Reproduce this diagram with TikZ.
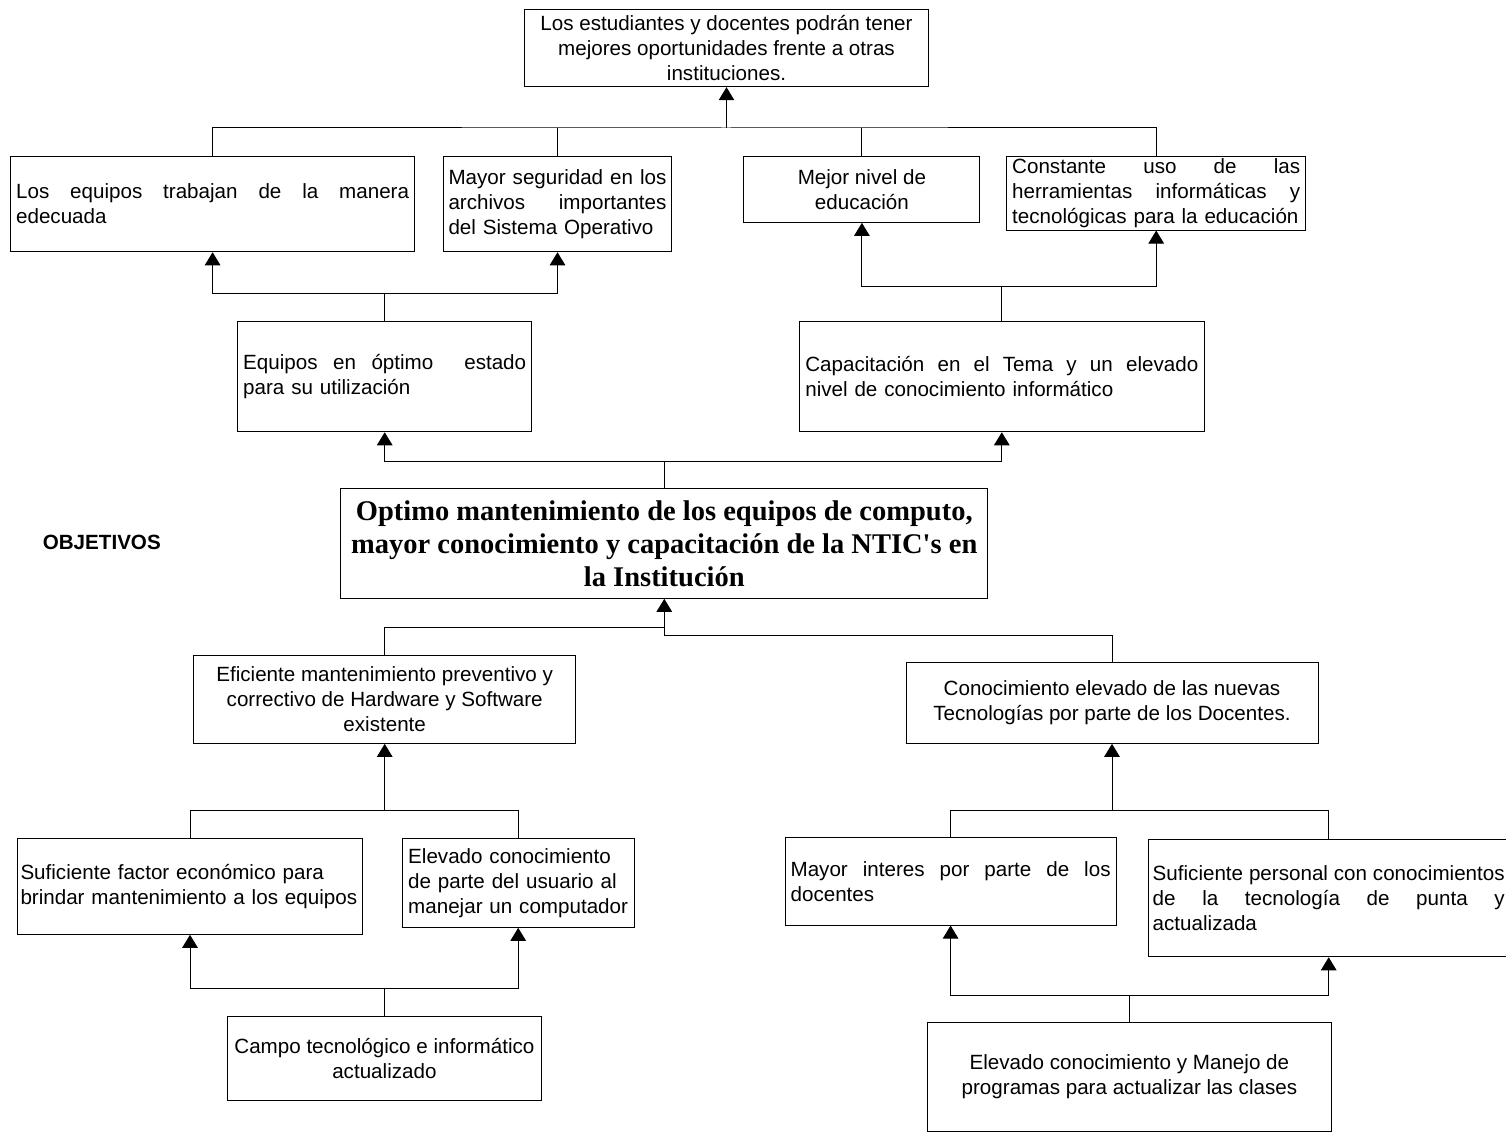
\documentclass[tikz,border=0pt]{standalone}
\usepackage{fontspec}
\setmainfont{Liberation Sans}
\newfontfamily\romanbold{Liberation Serif}
\usetikzlibrary{arrows.meta}

% renglon justificado a un ancho dado
\newcommand{\llena}[2]{\leavevmode\hbox to #1{\spaceskip=.278em plus 1fil\relax #2}}

\begin{document}
\begin{tikzpicture}[x=1pt,y=-1pt,>={Triangle[width=15.5pt,length=13pt]},line width=1pt,
    caja/.style={draw,rectangle,inner sep=0pt,font=\fontsize{20.6}{25}\selectfont}]
  \useasboundingbox (0,0) rectangle (1506,1137);
  \clip (0,0) rectangle (1506,1137);

  % fines
  \node[caja,minimum width=404pt,minimum height=77.4pt,align=center] (T) at (726.5,48)
      {Los estudiantes y docentes podrán tener\\ mejores oportunidades frente a otras\\ instituciones.};
  \node[caja,minimum width=403.8pt,minimum height=95.7pt,text width=393pt,align=left] (A) at (212.6,203.9)
      {\llena{393pt}{Los equipos trabajan de la manera}\\ edecuada};
  \node[caja,minimum width=228pt,minimum height=95.7pt,text width=218pt,align=left] (B) at (557.5,203.9)
      {\llena{218pt}{Mayor seguridad en los}\\ \llena{218pt}{archivos importantes}\\ del Sistema Operativo};
  \node[caja,minimum width=236pt,minimum height=66.3pt,align=center] (C) at (861.9,189.2)
      {Mejor nivel de\\ educación};
  \node[caja,minimum width=299pt,minimum height=74pt,text width=288pt,align=left] (D) at (1156.2,193)
      {\llena{288pt}{Constante uso de las}\\ \llena{288pt}{herramientas informáticas y}\\ tecnológicas para la educación};
  \node[caja,minimum width=294.3pt,minimum height=110.7pt,text width=283pt,align=left] (E) at (384.7,376.4)
      {\llena{283pt}{Equipos en óptimo\ \ estado}\\ para su utilización};
  \node[caja,minimum width=404.4pt,minimum height=110.7pt,text width=393pt,align=left] (F) at (1001.8,376.4)
      {\llena{393pt}{Capacitación en el Tema y un elevado}\\ nivel de conocimiento informático};

  % objetivo central
  \node[draw,rectangle,inner sep=0pt,minimum width=647pt,minimum height=110pt,align=center,
        font=\romanbold\bfseries\fontsize{28.5}{33}\selectfont] (M) at (664.3,543.3)
      {Optimo mantenimiento de los equipos de computo,\\ mayor conocimiento y capacitación de la NTIC\textquotesingle s en\\ la Institución};
  \node[font=\bfseries\fontsize{20.6}{25}\selectfont] (obj) at (101.8,542.7) {OBJETIVOS};

  % medios
  \node[caja,minimum width=381.5pt,minimum height=88.3pt,align=center] (G1) at (384.7,699.2)
      {Eficiente mantenimiento preventivo y\\ correctivo de Hardware y Software\\ existente};
  \node[caja,minimum width=412pt,minimum height=80.6pt,align=center] (G2) at (1112,703)
      {Conocimiento elevado de las nuevas\\ Tecnologías por parte de los Docentes.};
  \node[caja,minimum width=345pt,minimum height=96pt,text width=339pt,align=left] (H1) at (190,886.3)
      {Suficiente factor económico para\\ brindar mantenimiento a los equipos};
  \node[caja,minimum width=231.7pt,minimum height=89pt,text width=220pt,align=left] (H2) at (518.2,882.8)
      {Elevado conocimiento\\ de parte del usuario al\\ manejar un computador};
  \node[caja,minimum width=331pt,minimum height=87.7pt,text width=320pt,align=left] (H3) at (950.6,881.2)
      {\llena{320pt}{Mayor interes por parte de los}\\ docentes};
  \node[caja,minimum width=360.6pt,minimum height=117.7pt,text width=352pt,align=left] (H4) at (1328.7,897.9)
      {\llena{352pt}{Suficiente personal con conocimientos}\\ \llena{352pt}{de la tecnología de punta y}\\ actualizada};
  \node[caja,minimum width=313.2pt,minimum height=84.7pt,align=center] (I) at (384.4,1058.4)
      {Campo tecnológico e informático\\ actualizado};
  \node[caja,minimum width=403.5pt,minimum height=109.4pt,align=center] (J) at (1129.4,1077)
      {Elevado conocimiento y Manejo de\\ programas para actualizar las clases};

  % uniones
  \coordinate (t0) at (T.south |- 0,128);
  \coordinate (e0) at (E.north |- 0,293.3);
  \coordinate (f0) at (F.north |- 0,286);
  \coordinate (m0) at (M.north |- 0,461);
  \coordinate (m1) at (M.south |- 0,627.3);
  \coordinate (m2) at (M.south |- 0,635);
  \coordinate (g1) at (G1.south |- 0,810.7);
  \coordinate (g2) at (G2.south |- 0,810);
  \coordinate (i0) at (I.north |- 0,988.3);
  \coordinate (j0) at (J.north |- 0,995);

  \draw (A.north) |- (t0) -| (D.north);
  \draw (B.north) -- (B.north |- t0);
  \draw (C.north) -- (C.north |- t0);
  \path (t0) edge[->] (T.south);

  \draw (E.north) -- (e0);
  \draw[->] (e0) -| (A.south);
  \draw[->] (e0) -| (B.south);
  \draw (F.north) -- (f0);
  \draw[->] (f0) -| (C.south);
  \draw[->] (f0) -| (D.south);

  \draw (M.north) -- (m0);
  \draw[->] (m0) -| (E.south);
  \draw[->] (m0) -| (F.south);

  \draw (G1.north) |- (m1);
  \draw (G2.north) |- (m2);
  \path (m2) edge[->] (M.south);

  \draw (H1.north) |- (g1) -| (H2.north);
  \path (g1) edge[->] (G1.south);
  \draw (H3.north) |- (g2) -| (H4.north);
  \path (g2) edge[->] (G2.south);

  \draw (I.north) -- (i0);
  \draw[->] (i0) -| (H1.south);
  \draw[->] (i0) -| (H2.south);
  \draw (J.north) -- (j0);
  \draw[->] (j0) -| (H3.south);
  \draw[->] (j0) -| (H4.south);
\end{tikzpicture}
\end{document}
